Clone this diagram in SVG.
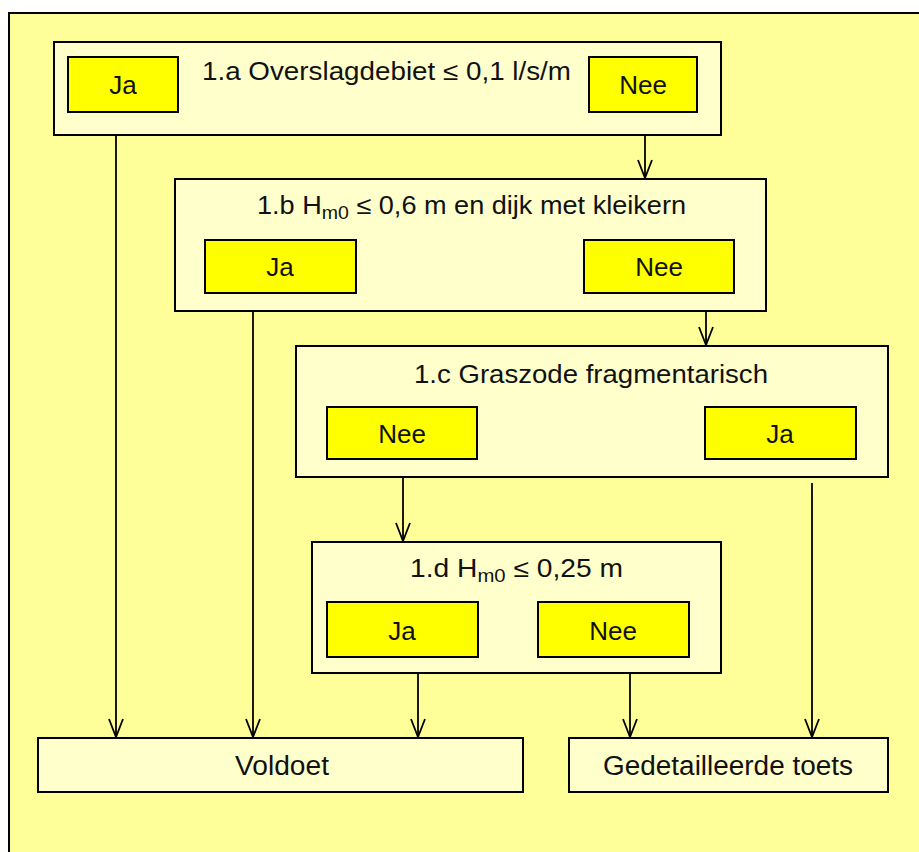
<svg xmlns="http://www.w3.org/2000/svg" width="919" height="852" viewBox="0 0 919 852">
  <style>
    .panel { fill: #FFFFCC; stroke: #000; stroke-width: 2; }
    .choice { fill: #FFFF00; stroke: #000; stroke-width: 2; }
    .title { font-family: "Liberation Sans", Arial, sans-serif; font-size: 25px; fill: #111; }
    .label { font-family: "Liberation Sans", Arial, sans-serif; font-size: 26px; fill: #111; text-anchor: middle; }
    .result { font-family: "Liberation Sans", Arial, sans-serif; font-size: 27px; fill: #111; }
    .sub { font-size: 18px; }
    .flow { stroke: #000; stroke-width: 1.8; fill: none; marker-end: url(#vee); }
  </style>
  <defs>
    <!-- open V arrowhead, tip at the line end -->
    <marker id="vee" viewBox="-20 -9 22 18" refX="0" refY="0" markerWidth="22" markerHeight="18" markerUnits="userSpaceOnUse" orient="auto" overflow="visible">
      <path d="M-18,-7 L0,0 L-18,7" fill="none" stroke="#000" stroke-width="1.8"/>
    </marker>
  </defs>

  <!-- background sheet -->
  <rect x="0" y="0" width="919" height="852" fill="#FFFFFF"/>
  <rect x="9" y="13" width="940" height="870" fill="#FFFF99" stroke="#000" stroke-width="2"/>

  <!-- connectors -->
  <g id="connectors">
    <line class="flow" x1="116" y1="135" x2="116" y2="737"/>
    <line class="flow" x1="645" y1="135" x2="645" y2="178"/>
    <line class="flow" x1="253" y1="311" x2="253" y2="737"/>
    <line class="flow" x1="706" y1="311" x2="706" y2="345"/>
    <line class="flow" x1="403" y1="477" x2="403" y2="541"/>
    <line class="flow" x1="812" y1="483" x2="812" y2="737"/>
    <line class="flow" x1="418" y1="673" x2="418" y2="737"/>
    <line class="flow" x1="630" y1="673" x2="630" y2="737"/>
  </g>

  <!-- 1.a -->
  <g id="q1a">
    <rect class="panel" x="54" y="42" width="667" height="93"/>
    <text class="title" x="202" y="80" textLength="369" lengthAdjust="spacingAndGlyphs">1.a Overslagdebiet ≤ 0,1 l/s/m</text>
    <rect class="choice" x="68" y="57" width="110" height="55"/>
    <text class="label" x="123" y="94">Ja</text>
    <rect class="choice" x="589" y="57" width="108" height="55"/>
    <text class="label" x="643" y="94">Nee</text>
  </g>

  <!-- 1.b -->
  <g id="q1b">
    <rect class="panel" x="175" y="179" width="591" height="132"/>
    <text class="title" x="257" y="214" textLength="429" lengthAdjust="spacingAndGlyphs">1.b H<tspan class="sub" dy="5">m0</tspan><tspan dy="-5"> ≤ 0,6 m en dijk  met kleikern</tspan></text>
    <rect class="choice" x="205" y="240" width="151" height="53"/>
    <text class="label" x="280" y="276">Ja</text>
    <rect class="choice" x="584" y="240" width="150" height="53"/>
    <text class="label" x="659" y="276">Nee</text>
  </g>

  <!-- 1.c -->
  <g id="q1c">
    <rect class="panel" x="296" y="346" width="592" height="131"/>
    <text class="title" x="414" y="383" textLength="354" lengthAdjust="spacingAndGlyphs">1.c Graszode fragmentarisch</text>
    <rect class="choice" x="327" y="407" width="150" height="52"/>
    <text class="label" x="402" y="443">Nee</text>
    <rect class="choice" x="705" y="407" width="151" height="52"/>
    <text class="label" x="780" y="443">Ja</text>
  </g>

  <!-- 1.d -->
  <g id="q1d">
    <rect class="panel" x="312" y="542" width="409" height="131"/>
    <text class="title" x="410" y="577" textLength="213" lengthAdjust="spacingAndGlyphs">1.d  H<tspan class="sub" dy="5">m0</tspan><tspan dy="-5"> ≤ 0,25 m</tspan></text>
    <rect class="choice" x="327" y="602" width="151" height="55"/>
    <text class="label" x="402" y="640">Ja</text>
    <rect class="choice" x="538" y="602" width="151" height="55"/>
    <text class="label" x="613" y="640">Nee</text>
  </g>

  <!-- outcomes -->
  <g id="voldoet">
    <rect class="panel" x="38" y="738" width="485" height="54"/>
    <text class="result" x="235" y="775" textLength="94" lengthAdjust="spacingAndGlyphs">Voldoet</text>
  </g>
  <g id="gedetailleerde-toets">
    <rect class="panel" x="569" y="738" width="319" height="54"/>
    <text class="result" x="603" y="775" textLength="250" lengthAdjust="spacingAndGlyphs">Gedetailleerde  toets</text>
  </g>
</svg>
